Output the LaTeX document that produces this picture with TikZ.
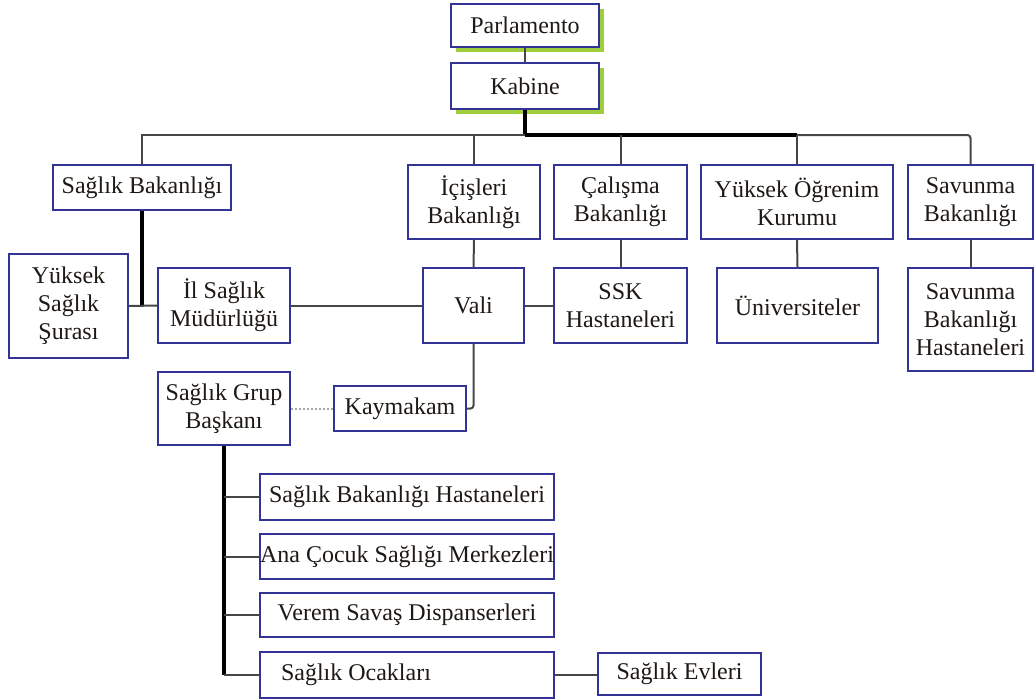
\documentclass[tikz,border=0pt]{standalone}
\usepackage{fontspec}
\setmainfont{Liberation Serif}
\definecolor{boxblue}{RGB}{52,52,150}
\definecolor{txt}{RGB}{30,25,20}
\definecolor{lnthin}{RGB}{70,70,70}
\definecolor{shadowgreen}{RGB}{160,205,60}
\begin{document}
\begin{tikzpicture}[x=1pt,y=-1pt,
  box/.style={draw=boxblue,line width=2pt,fill=white,text=txt,align=center,
    inner sep=0pt,anchor=north west,font=\fontsize{24}{28}\selectfont},
  thin/.style={draw=lnthin,line width=2pt},
  thick/.style={draw=black,line width=3.5pt},
  dotln/.style={draw=gray!70,line width=2pt,dotted},
  shad/.style={fill=shadowgreen}]
\useasboundingbox (0,0) rectangle (1036,699);
% shadows
\fill[shad] (456,9) rectangle (604,52);
\fill[shad] (456,68) rectangle (604,114);
% nodes
\node[box,minimum width=148pt,minimum height=43pt] (P) at (450,3) {Parlamento};
\node[box,minimum width=148pt,minimum height=46pt] (K) at (450,62) {Kabine};
\node[box,minimum width=178pt,minimum height=45pt] (SB) at (52,164) {Sağlık Bakanlığı};
\node[box,minimum width=132pt,minimum height=74pt] (IB) at (407,164) {İçişleri\\Bakanlığı};
\node[box,minimum width=133pt,minimum height=74pt] (CB) at (553,164) {Çalışma\\Bakanlığı};
\node[box,minimum width=192pt,minimum height=74pt] (YO) at (700,164) {Yüksek Öğrenim\\Kurumu};
\node[box,minimum width=125pt,minimum height=74pt] (SVB) at (907,164) {Savunma\\Bakanlığı};
\node[box,minimum width=119pt,minimum height=104pt] (YSS) at (8,253) {Yüksek\\Sağlık\\Şurası};
\node[box,minimum width=132pt,minimum height=75pt] (ISM) at (157,267) {İl Sağlık\\Müdürlüğü};
\node[box,minimum width=101pt,minimum height=75pt] (V) at (422,267) {Vali};
\node[box,minimum width=133pt,minimum height=75pt] (SSK) at (553,267) {SSK\\Hastaneleri};
\node[box,minimum width=161pt,minimum height=75pt] (U) at (716,267) {Üniversiteler};
\node[box,minimum width=125pt,minimum height=103pt] (SVBH) at (907,267) {Savunma\\Bakanlığı\\Hastaneleri};
\node[box,minimum width=132pt,minimum height=73pt] (SGB) at (157,371) {Sağlık Grup\\Başkanı};
\node[box,minimum width=132pt,minimum height=45pt] (KY) at (333,385) {Kaymakam};
\node[box,minimum width=294pt,minimum height=46pt] (SBH) at (259,473) {Sağlık Bakanlığı Hastaneleri};
\node[box,minimum width=294pt,minimum height=45pt] (AC) at (259,533) {Ana Çocuk Sağlığı Merkezleri};
\node[box,minimum width=294pt,minimum height=44pt] (VS) at (259,592) {Verem Savaş Dispanserleri};
\node[box,minimum height=46pt,text width=252pt,inner xsep=21pt,align=flush left] (SO) at (259,651) {Sağlık Ocakları};
\node[box,minimum width=163pt,minimum height=42pt] (SE) at (597,652) {Sağlık Evleri};
% bus coordinates
\coordinate (busK) at (K.south |- 0,135);
\coordinate (busY) at (YO.north |- 0,135);
\coordinate (jSB) at (SB.south |- YSS.east);
\coordinate (jSG) at (SGB.south |- SO.west);
% connectors
\draw[thin] (P.south) -- (K.north);
\draw[thick] (K.south) -- (busK);
\draw[thin] (SB.north) |- (busK);
\draw[thick] (busK) -- (busY);
\draw[thin,rounded corners=3pt] (busY) -| (SVB.north);
\draw[thin] (IB.north) -- (IB.north |- busK);
\draw[thin] (CB.north) -- (CB.north |- busK);
\draw[thin] (YO.north) -- (busY);
\draw[thick] (SB.south) -- (jSB);
\draw[thin] (YSS.east) -- (ISM.west);
\draw[thin] (ISM.east) -- (V.west);
\draw[thin] (V.east) -- (SSK.west);
\draw[thin] (IB.south) -- (V.north);
\draw[thin] (CB.south) -- (SSK.north);
\draw[thin] (YO.south) -- (U.north);
\draw[thin] (SVB.south) -- (SVBH.north);
\draw[thin,rounded corners=3pt] (V.south) |- (KY.east);
\draw[dotln] (SGB.east) -- (KY.west);
\draw[thick] (SGB.south) -- (jSG);
\draw[thin] (SGB.south |- SBH.west) -- (SBH.west);
\draw[thin] (SGB.south |- AC.west) -- (AC.west);
\draw[thin] (SGB.south |- VS.west) -- (VS.west);
\draw[thin] (jSG) -- (SO.west);
\draw[thin] (SO.east) -- (SO.east -| SE.west);
\end{tikzpicture}
\end{document}
